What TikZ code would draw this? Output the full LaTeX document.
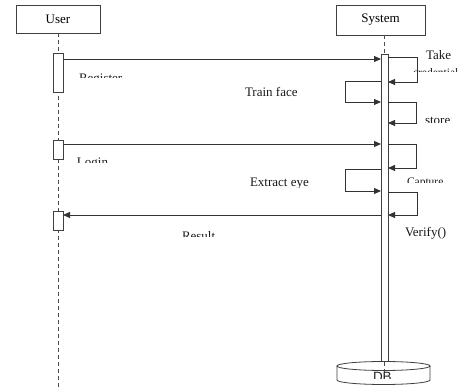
\documentclass[tikz,border=0pt]{standalone}
\usepackage{fontspec}
\setmainfont{Liberation Serif}
\newfontfamily\dbfont{Liberation Sans}
\usetikzlibrary{arrows.meta}
\begin{document}
\begin{tikzpicture}[x=1pt,y=-1pt,
  every node/.style={inner sep=0pt,outer sep=0pt},
  actor/.style={draw=black!75,line width=0.9pt,fill=white,font=\fontsize{13}{15}\selectfont},
  actbar/.style={draw=black!75,line width=0.8pt,fill=white,minimum width=10pt},
  lifeline/.style={draw=black!70,line width=0.8pt,dash pattern=on 4pt off 3pt},
  msg/.style={draw=black!80,line width=0.9pt,-{Triangle[length=7pt,width=6pt]}},
  lbl/.style={font=\fontsize{13}{15}\selectfont,text=black!90,anchor=base west},
  small/.style={font=\fontsize{11.5}{13}\selectfont,text=black!90,anchor=base west},
]
\useasboundingbox (0,0) rectangle (467,387);

% actors and the user lifeline
\node[actor,minimum width=84pt,minimum height=28pt] (user) at (58,19) {User};
\node[actor,minimum width=89pt,minimum height=30pt] (sys) at (380.5,20) {System};
\draw[lifeline] (user.south) -- (user.south |- 0,387);

% activations on the user side
\node[actbar,minimum height=39pt] (ua1) at (58,72.5) {};
\node[actbar,minimum height=19pt] (ua2) at (58,149.5) {};
\node[actbar,minimum height=19pt] (ua3) at (58,220.5) {};

% system activation bar
\node[draw=black!75,line width=0.8pt,fill=white,minimum width=7pt,minimum height=308pt] (sbar) at (384.5,208) {};
\draw[lifeline] (sbar.north |- sys.south) -- (sbar.north);

% database
\draw[black!75,line width=0.8pt,fill=white] (337,366) -- (337,380)
  arc[start angle=180,end angle=360,x radius=46.5pt,y radius=4.5pt] -- (430,366);
\draw[black!75,line width=0.8pt,fill=white] (383.5,366) ellipse[x radius=46.5pt,y radius=4.5pt];
\draw[lifeline] (sbar.south) -- (sbar.south |- 0,378);
\begin{scope}
  \clip (360,368) rectangle (400,378.5);
  \node[font=\dbfont\fontsize{13.5}{15}\selectfont,text=black!85,anchor=base west] (ldb) at (373,382) {DB};
\end{scope}

% messages between the lifelines
\draw[msg] (ua1.east |- 0,59) -- (sbar.west |- 0,59);
\draw[msg] (ua2.east |- 0,144) -- (sbar.west |- 0,144);
\draw[msg] (sbar.west |- 0,215) -- (ua3.east |- 0,215);

% self calls on the system
\draw[msg] (sbar.east |- 0,57) -- ++(29,0) |- (sbar.east |- 0,82);
\draw[msg] (sbar.west |- 0,81) -- ++(-36,0) |- (sbar.west |- 0,102);
\draw[msg] (sbar.east |- 0,102) -- ++(28,0) |- (sbar.east |- 0,123);
\draw[msg] (sbar.east |- 0,144) -- ++(28,0) |- (sbar.east |- 0,168);
\draw[msg] (sbar.west |- 0,169) -- ++(-36,0) |- (sbar.west |- 0,191);
\draw[msg] (sbar.east |- 0,192) -- ++(29,0) |- (sbar.east |- 0,215);

% labels
\node[lbl] (ltake) at (426,60) {Take};
\begin{scope}
  \clip (405,67) rectangle (467,71.5);
  \node[small] (lcred) at (413,77) {credential};
\end{scope}
\node[lbl] (ltrain) at (245,97) {Train face};
\begin{scope}
  \clip (415,110) rectangle (467,123);
  \node[lbl] (lstore) at (425,125) {store};
\end{scope}
\begin{scope}
  \clip (240,170) rectangle (330,187.5);
  \node[lbl] (lextract) at (250,187) {Extract eye};
\end{scope}
\begin{scope}
  \clip (400,170) rectangle (460,183);
  \node[small] (lcapture) at (407,186) {Capture};
\end{scope}
\begin{scope}
  \clip (70,64) rectangle (140,78);
  \node[lbl] (lregister) at (79,83) {Register};
\end{scope}
\begin{scope}
  \clip (70,150) rectangle (130,163);
  \node[lbl] (llogin) at (77,167) {Login};
\end{scope}
\begin{scope}
  \clip (175,225) rectangle (230,237);
  \node[lbl] (lresult) at (182,241) {Result};
\end{scope}
\node[lbl] (lverify) at (405,237) {Verify()};
\end{tikzpicture}
\end{document}
